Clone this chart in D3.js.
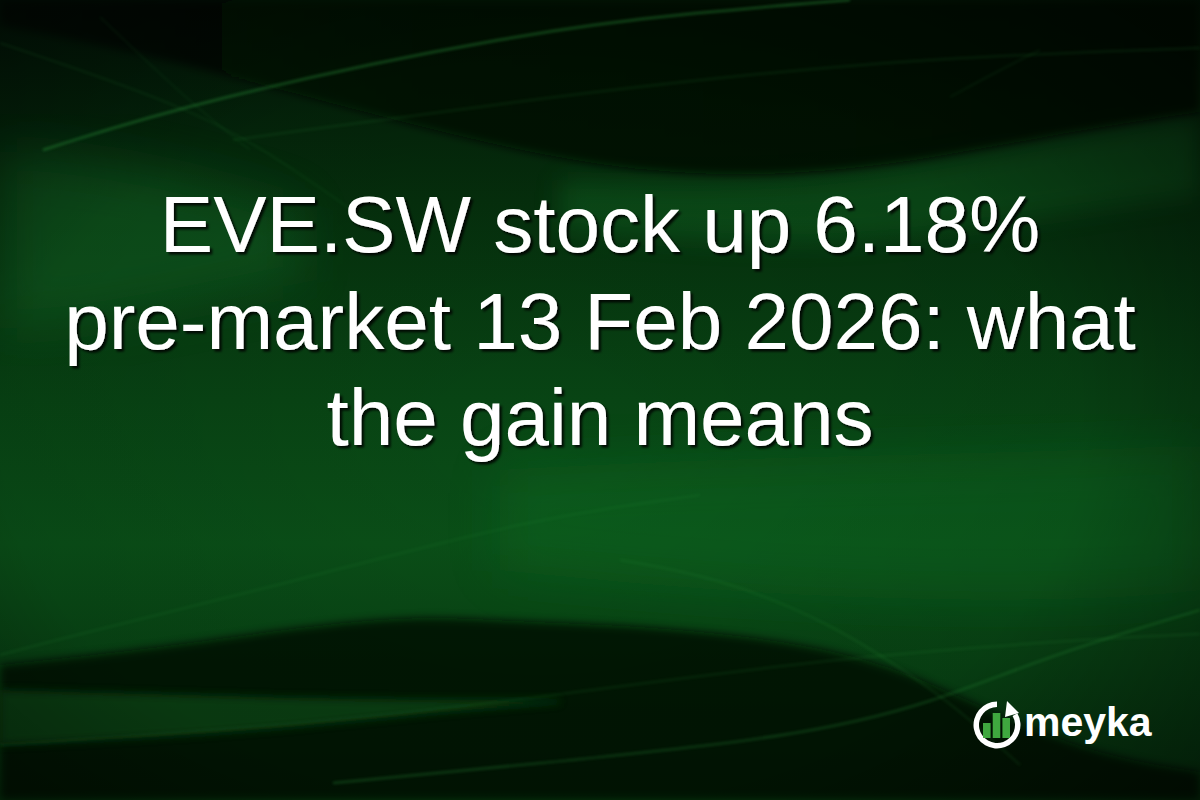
<!DOCTYPE html>
<html lang="en">
<head>
<meta charset="UTF-8" />
<title>EVE.SW stock up 6.18% pre-market</title>
<script src="https://d3js.org/d3.v7.min.js"></script>
<style>
  html, body { margin: 0; padding: 0; background: #021006; }
  svg { display: block; }
  .title { font-family: "Liberation Sans", Arial, sans-serif; font-size: 80px; fill: #ffffff; }
  .brand { font-family: "Liberation Sans", Arial, sans-serif; font-weight: bold; font-size: 41px; fill: #ffffff; }
</style>
</head>
<body>
<div id="card"></div>
<script>
  // title lines
  const titleLines = ["EVE.SW stock up 6.18%", "pre-market 13 Feb 2026: what", "the gain means"];
  const brandName = "meyka";
  // logo bar heights
  const logoBars = [15, 25, 20];

  // background wave bands: [x, top, bottom] in a 1200x800 design space
  const topDarkLens = [[0, 0, 25], [150, 0, 55], [300, 0, 95], [450, 0, 135], [600, 0, 168], [750, 0, 178], [900, 0, 165], [1050, 0, 135], [1200, 0, 112]];
  const rightLightBand = [[560, 180, 230], [750, 185, 245], [900, 170, 240], [1050, 140, 215], [1200, 115, 195]];
  const leftLightPatch = [[0, 150, 330], [100, 160, 320], [200, 180, 300], [300, 210, 280]];
  const midLightBand = [[500, 470, 570], [700, 460, 590], [900, 455, 600], [1100, 450, 600], [1200, 445, 590]];
  const bottomDark = [[0, 665, 800], [167, 647, 800], [300, 627, 800], [417, 615, 800], [523, 622, 800], [650, 626, 800], [800, 642, 800], [900, 668, 800], [1000, 716, 800], [1100, 756, 800], [1200, 772, 800]];
  const lowerLightBand = [[0, 690, 745], [150, 694, 738], [300, 698, 727], [450, 700, 711], [560, 700, 703]];

  // thin glowing streaks: [x, y]
  const streakTopBright = [[43, 150], [200, 100], [523, 32], [700, 12], [850, 0]];
  const streakTopFaint = [[233, 140], [523, 100], [867, 60], [1200, 48]];
  const streakDiagA = [[0, 43], [200, 110], [300, 173], [380, 230]];
  const streakDiagB = [[100, 17], [187, 100], [250, 150]];
  const streakMid = [[0, 655], [67, 637], [300, 580], [523, 520], [700, 495]];
  const streakLow = [[0, 745], [300, 725], [523, 700], [833, 657], [1123, 637], [1200, 634]];
  const streakBottom = [[333, 783], [523, 765], [800, 737], [933, 703], [1050, 655], [1200, 610]];
  const streakCurve = [[620, 560], [717, 577], [833, 623], [933, 690], [967, 717], [1020, 765]];
  const streakRight = [[950, 97], [1000, 70], [1040, 50]];

  const W = 1200, H = 800;

  const svg = d3.select("#card")
      .append("svg")
      .attr("width", W)
      .attr("height", H);

  const x = d3.scaleLinear().domain([0, 1200]).range([0, W]);
  const y = d3.scaleLinear().domain([0, 800]).range([0, H]);

  const defs = svg.append("defs");

  const base = defs.append("linearGradient")
      .attr("id", "base")
      .attr("x1", 0).attr("y1", 0).attr("x2", 0).attr("y2", 1);
  base.append("stop").attr("offset", "0%").attr("stop-color", "#021607");
  base.append("stop").attr("offset", "25%").attr("stop-color", "#05300d");
  base.append("stop").attr("offset", "50%").attr("stop-color", "#084514");
  base.append("stop").attr("offset", "68%").attr("stop-color", "#0a5018");
  base.append("stop").attr("offset", "100%").attr("stop-color", "#06360f");

  const side = defs.append("radialGradient")
      .attr("id", "side")
      .attr("cx", "45%").attr("cy", "55%").attr("r", "75%");
  side.append("stop").attr("offset", "0%").attr("stop-color", "#000").attr("stop-opacity", 0);
  side.append("stop").attr("offset", "60%").attr("stop-color", "#000").attr("stop-opacity", 0.1);
  side.append("stop").attr("offset", "100%").attr("stop-color", "#000").attr("stop-opacity", 0.55);

  const lensFill = defs.append("linearGradient")
      .attr("id", "lensFill")
      .attr("x1", 0).attr("y1", 0).attr("x2", 1).attr("y2", 0);
  lensFill.append("stop").attr("offset", "0%").attr("stop-color", "#010a03").attr("stop-opacity", 0.5);
  lensFill.append("stop").attr("offset", "35%").attr("stop-color", "#010a03").attr("stop-opacity", 0.82);
  lensFill.append("stop").attr("offset", "100%").attr("stop-color", "#010a03").attr("stop-opacity", 0.9);

  const blur = (id, sd) => defs.append("filter")
      .attr("id", id)
      .attr("x", "-20%").attr("y", "-20%").attr("width", "140%").attr("height", "140%")
      .append("feGaussianBlur").attr("stdDeviation", sd);
  blur("edge", 4);
  blur("soft", 12);
  blur("softer", 25);
  blur("glow", 1.6);

  defs.append("filter")
      .attr("id", "shadow")
      .attr("x", "-5%").attr("y", "-20%").attr("width", "110%").attr("height", "140%")
      .append("feDropShadow")
      .attr("dx", 2.5).attr("dy", 2.5).attr("stdDeviation", 1.2)
      .attr("flood-color", "#000").attr("flood-opacity", 0.85);

  svg.append("rect")
      .attr("width", W).attr("height", H)
      .attr("fill", "url(#base)");

  const area = d3.area()
      .x(d => x(d[0]))
      .y0(d => y(d[1]))
      .y1(d => y(d[2]))
      .curve(d3.curveBasis);

  const line = d3.line()
      .x(d => x(d[0]))
      .y(d => y(d[1]))
      .curve(d3.curveBasis);

  const bg = svg.append("g");

  const bands = [
    { data: leftLightPatch, color: "#13722a", opacity: 0.45, filter: "softer" },
    { data: midLightBand, color: "#0f6a22", opacity: 0.45, filter: "softer" },
    { data: rightLightBand, color: "#157a2a", opacity: 0.35, filter: "soft" },
    { data: topDarkLens, color: "url(#lensFill)", opacity: 1, filter: "edge" },
    { data: bottomDark, color: "#010b04", opacity: 0.8, filter: "edge" },
    { data: lowerLightBand, color: "#0a4817", opacity: 0.8, filter: "edge" }
  ];

  bg.selectAll("path.band")
    .data(bands)
    .join("path")
      .attr("class", "band")
      .attr("d", d => area(d.data))
      .attr("fill", d => d.color)
      .attr("opacity", d => d.opacity)
      .attr("filter", d => `url(#${d.filter})`);

  bg.append("rect")
      .attr("width", W).attr("height", H)
      .attr("fill", "url(#side)");

  const streaks = [
    { data: streakTopBright, width: 2, opacity: 0.5 },
    { data: streakTopFaint, width: 1.5, opacity: 0.2 },
    { data: streakDiagA, width: 1.5, opacity: 0.15 },
    { data: streakDiagB, width: 1.3, opacity: 0.12 },
    { data: streakMid, width: 1.5, opacity: 0.18 },
    { data: streakLow, width: 1.5, opacity: 0.2 },
    { data: streakBottom, width: 1.8, opacity: 0.35 },
    { data: streakCurve, width: 1.5, opacity: 0.2 },
    { data: streakRight, width: 1.3, opacity: 0.15 }
  ];

  bg.selectAll("path.streak")
    .data(streaks)
    .join("path")
      .attr("class", "streak")
      .attr("d", d => line(d.data))
      .attr("fill", "none")
      .attr("stroke", "#2fa040")
      .attr("stroke-width", d => d.width)
      .attr("opacity", d => d.opacity)
      .attr("filter", "url(#glow)");

  // title
  const lineY = d3.scalePoint()
      .domain(d3.range(titleLines.length))
      .range([252, 445]);

  svg.append("g")
      .attr("filter", "url(#shadow)")
    .selectAll("text")
    .data(titleLines)
    .join("text")
      .attr("class", "title")
      .attr("x", W / 2)
      .attr("y", (d, i) => lineY(i))
      .attr("text-anchor", "middle")
      .text(d => d);

  // logo
  const logo = svg.append("g").attr("transform", "translate(997,725)");

  logo.append("path")
      .attr("d", d3.arc()
          .innerRadius(18)
          .outerRadius(23.5)
          .startAngle(Math.PI / 3)
          .endAngle(2 * Math.PI)())
      .attr("fill", "#ffffff");

  // arrow head at the open end
  logo.append("path")
      .attr("d", d3.line()([[10, -24], [22, -12], [8, -8]]) + "Z")
      .attr("fill", "#ffffff");

  const bx = d3.scaleBand()
      .domain(d3.range(logoBars.length))
      .range([-14, 13])
      .paddingInner(0.22);

  const by = d3.scaleLinear().domain([0, 25]).range([13, -12]);

  logo.selectAll("rect.bar")
    .data(logoBars)
    .join("rect")
      .attr("class", "bar")
      .attr("x", (d, i) => bx(i))
      .attr("width", bx.bandwidth())
      .attr("y", d => by(d))
      .attr("height", d => by(0) - by(d))
      .attr("fill", "#3fa83f");

  svg.append("text")
      .attr("class", "brand")
      .attr("x", 1024)
      .attr("y", 736)
      .text(brandName);
</script>
</body>
</html>
